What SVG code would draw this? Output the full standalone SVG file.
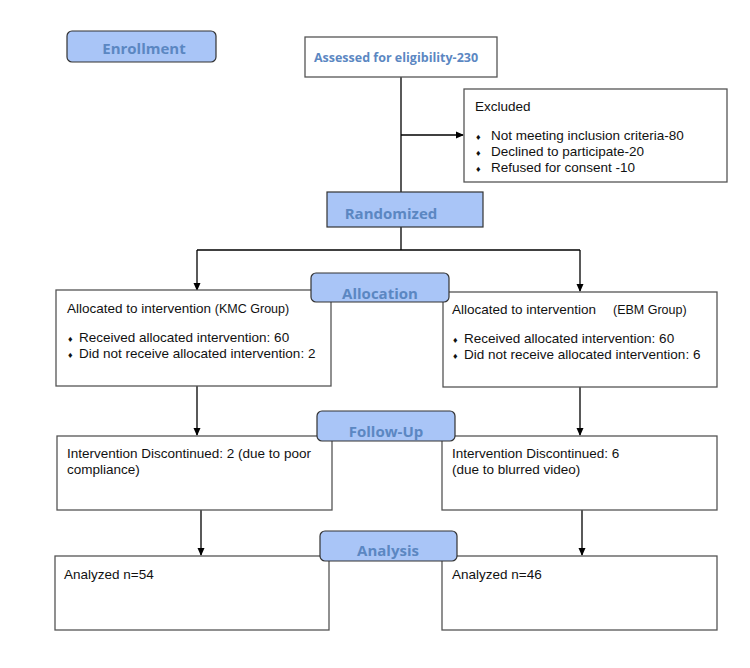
<svg xmlns="http://www.w3.org/2000/svg" width="750" height="668" viewBox="0 0 750 668">
<defs>
<marker id="ah" markerWidth="8" markerHeight="8" refX="7" refY="4" orient="auto" markerUnits="userSpaceOnUse">
<path d="M0,0.5 L8,4 L0,7.5 Z" fill="#000"/>
</marker>
</defs>
<style>
.box{fill:#fff;stroke:#555;stroke-width:1.3}
.stage{fill:#a9c5f7;stroke:#333;stroke-width:1.2}
.stl{font-family:"Open Sans","Noto Sans",sans-serif;font-weight:bold;font-size:15px;fill:#5b87c2;text-anchor:middle}
.t{font-family:"Liberation Sans",Arial,sans-serif;font-size:13.5px;fill:#111}
.s{font-size:12.5px}
.b{font-size:9px}
.con{stroke:#000;stroke-width:1.3;fill:none}
</style>
<rect width="750" height="668" fill="#fff"/>
<g id="connectors">
<line class="con" x1="401" y1="77" x2="401" y2="192"/>
<line class="con" x1="401" y1="135" x2="463" y2="135" marker-end="url(#ah)"/>
<line class="con" x1="401" y1="227" x2="401" y2="250"/>
<line class="con" x1="197" y1="250" x2="580" y2="250"/>
<line class="con" x1="197" y1="250" x2="197" y2="290" marker-end="url(#ah)"/>
<line class="con" x1="580" y1="250" x2="580" y2="291" marker-end="url(#ah)"/>
<line class="con" x1="197" y1="386" x2="197" y2="435" marker-end="url(#ah)"/>
<line class="con" x1="580" y1="387" x2="580" y2="435" marker-end="url(#ah)"/>
<line class="con" x1="201" y1="510" x2="201" y2="555" marker-end="url(#ah)"/>
<line class="con" x1="582" y1="510" x2="582" y2="555" marker-end="url(#ah)"/>
</g>
<g id="enrollment">
<rect class="stage" x="67" y="31" width="149" height="31" rx="5"/>
<text class="stl" x="144" y="54">Enrollment</text>
</g>
<g id="assessed">
<rect class="box" x="305" y="37" width="192" height="40"/>
<text class="stl" x="396" y="62" style="font-size:12.5px">Assessed for eligibility-230</text>
</g>
<g id="excluded">
<rect class="box" x="464" y="89" width="263" height="93"/>
<text class="t" x="475" y="111">Excluded</text>
<text class="t" x="476" y="140"><tspan class="b">♦</tspan><tspan x="491">Not meeting inclusion criteria-80</tspan></text>
<text class="t" x="476" y="156"><tspan class="b">♦</tspan><tspan x="491">Declined to participate-20</tspan></text>
<text class="t" x="476" y="172"><tspan class="b">♦</tspan><tspan x="491">Refused for consent -10</tspan></text>
</g>
<g id="randomized">
<rect class="stage" x="327" y="192" width="156" height="35"/>
<text class="stl" x="391" y="219">Randomized</text>
</g>
<g id="alloc-left">
<rect class="box" x="56" y="290" width="275" height="96"/>
<text class="t" x="67" y="313">Allocated to intervention <tspan class="s">(KMC Group)</tspan></text>
<text class="t" x="68" y="342"><tspan class="b">♦</tspan><tspan x="79">Received allocated intervention: 60</tspan></text>
<text class="t" x="68" y="358"><tspan class="b">♦</tspan><tspan x="79">Did not receive allocated intervention: 2</tspan></text>
</g>
<g id="alloc-right">
<rect class="box" x="443" y="292" width="274" height="95"/>
<text class="t" x="452" y="314">Allocated to intervention<tspan class="s" x="613">(EBM Group)</tspan></text>
<text class="t" x="453" y="343"><tspan class="b">♦</tspan><tspan x="464">Received allocated intervention: 60</tspan></text>
<text class="t" x="453" y="359"><tspan class="b">♦</tspan><tspan x="464">Did not receive allocated intervention: 6</tspan></text>
</g>
<g id="allocation">
<rect class="stage" x="311" y="273" width="138" height="29" rx="5"/>
<text class="stl" x="380" y="299">Allocation</text>
</g>
<g id="follow-left">
<rect class="box" x="57" y="436" width="275" height="74"/>
<text class="t" x="67" y="458">Intervention Discontinued: 2 (due to poor</text>
<text class="t" x="67" y="474">compliance)</text>
</g>
<g id="follow-right">
<rect class="box" x="442" y="436" width="275" height="74"/>
<text class="t" x="452" y="458">Intervention Discontinued: 6</text>
<text class="t" x="452" y="474">(due to blurred video)</text>
</g>
<g id="followup">
<rect class="stage" x="317" y="411" width="138" height="30" rx="5"/>
<text class="stl" x="386" y="437">Follow-Up</text>
</g>
<g id="analyzed-left">
<rect class="box" x="55" y="556" width="274" height="74"/>
<text class="t" x="64" y="579">Analyzed n=54</text>
</g>
<g id="analyzed-right">
<rect class="box" x="442" y="556" width="275" height="74"/>
<text class="t" x="452" y="579">Analyzed n=46</text>
</g>
<g id="analysis">
<rect class="stage" x="320" y="531" width="137" height="30" rx="5"/>
<text class="stl" x="388" y="556">Analysis</text>
</g>
</svg>
